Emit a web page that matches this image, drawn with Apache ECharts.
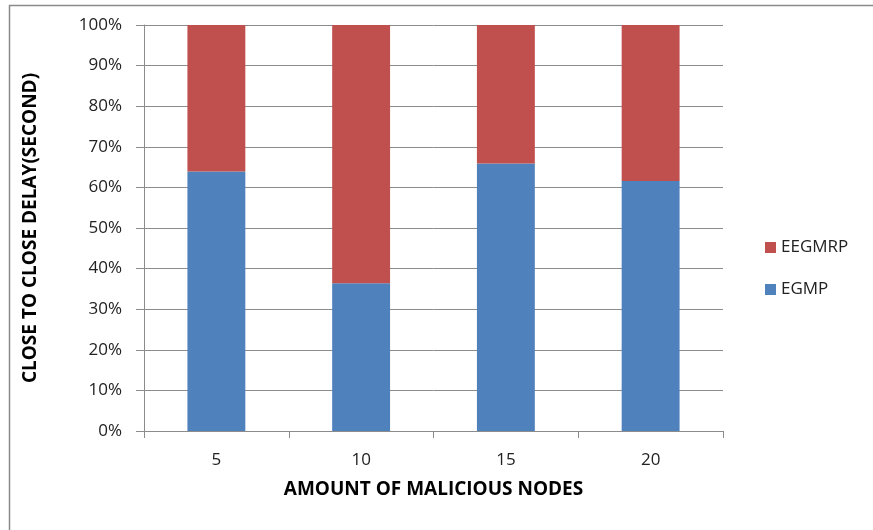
<!DOCTYPE html>
<html><head><meta charset="utf-8">
<script src="https://cdn.jsdelivr.net/npm/echarts@6/dist/echarts.min.js"></script>
<style>html,body{margin:0;padding:0;background:#fff}#c{width:873px;height:530px}</style>
</head><body><div id="c"></div>
<script>
const categories = ['5', '10', '15', '20'];
const egmp = [63.9, 36.4, 65.9, 61.6];
const eegmrp = [36.1, 63.6, 34.1, 38.4];
const yTicks = [0, 10, 20, 30, 40, 50, 60, 70, 80, 90, 100];

const chart = echarts.init(document.getElementById('c'), null, {renderer: 'canvas'});
const font = 'Open Sans, Noto Sans, sans-serif';
chart.setOption({
  animation: false,
  backgroundColor: '#fff',
  graphic: [{
    type: 'rect', left: 7, top: 3, z: -1,
    shape: {width: 900, height: 560},
    style: {fill: 'none', stroke: '#8a8a8a', lineWidth: 1.5}
  }],
  grid: {left: 144, right: 150, top: 25, bottom: 99, containLabel: false},
  legend: {
    orient: 'vertical', left: 760, top: 234, itemGap: 25,
    itemWidth: 11, itemHeight: 11, icon: 'rect',
    data: ['EEGMRP', 'EGMP'],
    textStyle: {fontFamily: font, fontSize: 17, color: '#222'}
  },
  xAxis: {
    type: 'category', data: categories,
    name: 'AMOUNT OF MALICIOUS NODES', nameLocation: 'middle', nameGap: 49,
    nameTextStyle: {fontFamily: font, fontSize: 19, fontWeight: 'bold', color: '#000'},
    axisLine: {lineStyle: {color: '#8c8c8c', width: 1}},
    axisTick: {show: true, length: 7, lineStyle: {color: '#8c8c8c'}},
    axisLabel: {fontFamily: font, fontSize: 17, color: '#222', margin: 21}
  },
  yAxis: {
    type: 'value', min: 0, max: 100, interval: 10,
    name: 'CLOSE TO CLOSE DELAY(SECOND)', nameLocation: 'middle', nameGap: 104,
    nameTextStyle: {fontFamily: font, fontSize: 19, fontWeight: 'bold', color: '#000'},
    axisLine: {show: true, lineStyle: {color: '#8c8c8c', width: 1}},
    axisTick: {show: true, length: 8, lineStyle: {color: '#8c8c8c'}},
    splitLine: {lineStyle: {color: '#8c8c8c', width: 1}},
    axisLabel: {fontFamily: font, fontSize: 17, color: '#222', margin: 22,
      formatter: v => yTicks.includes(v) ? v + '%' : ''}
  },
  series: [
    {name: 'EGMP', type: 'bar', stack: 't', data: egmp, barWidth: '40%',
     itemStyle: {color: '#4F81BD'}},
    {name: 'EEGMRP', type: 'bar', stack: 't', data: eegmrp, barWidth: '40%',
     itemStyle: {color: '#C0504D'}}
  ]
});
</script></body></html>
